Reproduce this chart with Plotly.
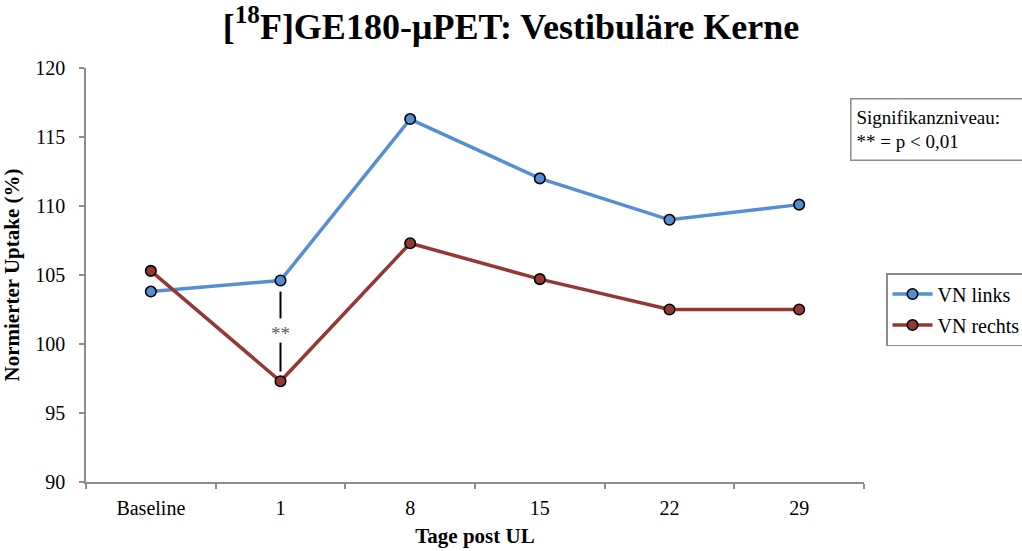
import plotly.graph_objects as go

categories = ["Baseline", "1", "8", "15", "22", "29"]
vn_links = [103.8, 104.6, 116.3, 112.0, 109.0, 110.1]
vn_rechts = [105.3, 97.3, 107.3, 104.7, 102.5, 102.5]
y_ticks = [90, 95, 100, 105, 110, 115, 120]

FONT = "Liberation Serif"
BLUE = "#558ED5"
RED = "#953735"
AXIS = "#8C8C8C"

fig = go.Figure()
fig.add_trace(go.Scatter(
    x=categories, y=vn_links, mode="lines+markers", name="VN links",
    legendgroup="a",
    line=dict(color=BLUE, width=3.5),
    marker=dict(color=BLUE, size=10.5, line=dict(color="black", width=1.6)),
))
fig.add_trace(go.Scatter(
    x=categories, y=vn_rechts, mode="lines+markers", name="VN rechts",
    legendgroup="b",
    line=dict(color=RED, width=3.5),
    marker=dict(color=RED, size=10.5, line=dict(color="black", width=1.6)),
))

# significance marker at day 1
sig_cat = "1"
i = categories.index(sig_cat)
mid = (vn_links[i] + vn_rechts[i]) / 2
fig.add_shape(type="line", xref="x", yref="y", x0=sig_cat, x1=sig_cat,
              y0=vn_links[i] - 0.8, y1=mid + 0.9, line=dict(color="black", width=2))
fig.add_shape(type="line", xref="x", yref="y", x0=sig_cat, x1=sig_cat,
              y0=mid - 0.85, y1=vn_rechts[i] + 0.7, line=dict(color="black", width=2))
fig.add_annotation(x=sig_cat, y=mid, xref="x", yref="y", text="**", showarrow=False,
                   font=dict(family=FONT, size=19, color="#595959"), yshift=-3)

fig.add_annotation(
    xref="paper", yref="paper", x=(850 - 86) / 778, y=(482 - 98) / 414,
    xanchor="left", yanchor="top", align="left", showarrow=False,
    text="Signifikanzniveau:<br>** = p < 0,01",
    font=dict(family=FONT, size=19, color="black"),
    bordercolor=AXIS, borderwidth=1.5, bgcolor="white", borderpad=5,
    width=200, height=50,
)

fig.update_layout(
    width=1022, height=551,
    margin=dict(l=86, r=158, t=68, b=69, autoexpand=False),
    paper_bgcolor="white", plot_bgcolor="white",
    font=dict(family=FONT, size=20, color="black"),
    title=dict(text="<b>[<sup>18</sup>F]GE180-µPET: Vestibuläre Kerne</b>",
               x=0.5, xanchor="center", xref="container", y=1 - 26 / 551, yanchor="middle",
               font=dict(family=FONT, size=36, color="black")),
    showlegend=True,
    legend=dict(x=(886 - 86) / 778, xanchor="left", y=(482 - 273) / 414, yanchor="top",
                bordercolor=AXIS, borderwidth=1.5, bgcolor="white",
                font=dict(family=FONT, size=20, color="black"),
                tracegroupgap=2, itemwidth=40, entrywidth=150),
    xaxis=dict(
        type="category", categoryorder="array", categoryarray=categories,
        range=[-0.5, len(categories) - 0.5],
        showline=True, linecolor=AXIS, linewidth=1.5,
        ticks="outside", tickson="boundaries", ticklen=5, tickcolor=AXIS, tickwidth=1.5,
        showgrid=False, zeroline=False,
        tickfont=dict(family=FONT, size=20, color="black"),
        ticklabelstandoff=7,
        title=dict(text="<b>Tage post UL</b>", font=dict(family=FONT, size=21), standoff=11),
    ),
    yaxis=dict(
        range=[90, 120], tickvals=y_ticks,
        showline=True, linecolor=AXIS, linewidth=1.5,
        ticks="outside", ticklen=5, tickcolor=AXIS, tickwidth=1.5,
        showgrid=False, zeroline=False,
        tickfont=dict(family=FONT, size=20, color="black"),
        ticklabelstandoff=10,
        title=dict(text="<b>Normierter Uptake (%)</b>", font=dict(family=FONT, size=21), standoff=12),
    ),
)

fig.write_html("out.html")
